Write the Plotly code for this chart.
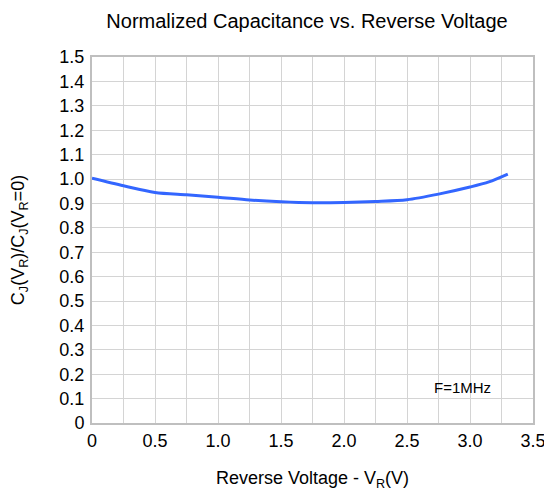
import plotly.graph_objects as go

voltage = [0.0, 0.25, 0.5, 0.75, 1.0, 1.25, 1.5, 1.75, 2.0, 2.25, 2.5, 2.75, 3.0, 3.15, 3.3]
cap_norm = [1.003, 0.972, 0.945, 0.935, 0.925, 0.914, 0.907, 0.903, 0.904, 0.908, 0.915, 0.938, 0.967, 0.988, 1.02]

x_tick_vals = [0, 0.5, 1.0, 1.5, 2.0, 2.5, 3.0, 3.5]
x_tick_text = ["0", "0.5", "1.0", "1.5", "2.0", "2.5", "3.0", "3.5"]
y_tick_vals = [i / 10 for i in range(16)]
y_tick_text = ["0"] + [f"{v:.1f}" for v in y_tick_vals[1:]]

font = "Liberation Sans, Arial, sans-serif"

W, H = 544, 483

fig = go.Figure()
fig.add_trace(go.Scatter(
    x=voltage, y=cap_norm, mode="lines",
    line=dict(color="#3366FF", width=3, shape="spline", smoothing=0.8),
    showlegend=False, hoverinfo="skip",
))

fig.add_annotation(x=2.94, y=0.145, xref="x", yref="y", text="F=1MHz",
                   showarrow=False, font=dict(family=font, size=15, color="#000"))

fig.update_layout(
    width=W, height=H,
    margin=dict(l=84, r=19, t=49, b=68),
    paper_bgcolor="white", plot_bgcolor="white",
    title=dict(text="Normalized Capacitance vs. Reverse Voltage", x=299 / W, xanchor="center",
               y=1 - 13 / H, yanchor="middle",
               font=dict(family=font, size=20, color="#000")),
    font=dict(family=font, size=18, color="#000"),
)
fig.update_xaxes(
    range=[0, 3.5], tickvals=x_tick_vals, ticktext=x_tick_text,
    showgrid=True, gridcolor="#d4d4d4", gridwidth=1,
    minor=dict(dtick=0.25, tick0=0, showgrid=True, gridcolor="#d4d4d4", gridwidth=1),
    showline=True, linecolor="#bfbfbf", linewidth=2, mirror=True,
    ticks="", zeroline=False, automargin=False, ticklabelstandoff=0,
    tickfont=dict(family=font, size=18),
    title=dict(text="Reverse Voltage - V<sub>R</sub>(V)", font=dict(family=font, size=18), standoff=24),
)
fig.update_yaxes(
    range=[0, 1.5], tickvals=y_tick_vals, ticktext=y_tick_text,
    showgrid=True, gridcolor="#d4d4d4", gridwidth=1,
    showline=True, linecolor="#bfbfbf", linewidth=2, mirror=True,
    ticks="", zeroline=False, automargin=False, ticklabelstandoff=2,
    tickfont=dict(family=font, size=18),
    title=dict(text="C<sub>J</sub>(V<sub>R</sub>)/C<sub>J</sub>(V<sub>R</sub>=0)",
               font=dict(family=font, size=18), standoff=32),
)

fig.write_html("out.html")
